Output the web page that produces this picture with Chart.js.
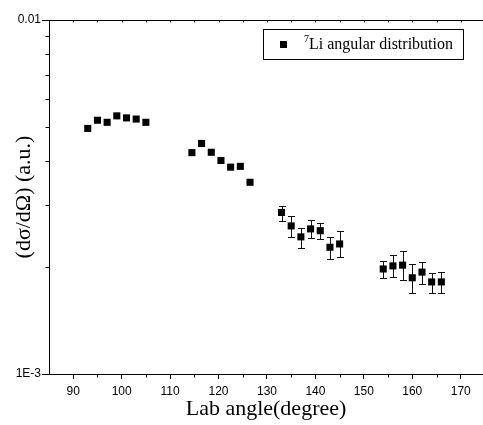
<!DOCTYPE html>
<html>
<head>
<meta charset="utf-8">
<title>7Li angular distribution</title>
<script src="https://cdn.jsdelivr.net/npm/chart.js@4.4.1/dist/chart.umd.min.js"></script>
<style>
  html, body { margin: 0; padding: 0; background: #fff; overflow: hidden; }
  canvas { display: block; }
</style>
</head>
<body>
<canvas id="chart" width="483" height="425"></canvas>
<script>
// Lab angle (degree)
const angles = [93, 95, 97, 99, 101, 103, 105,
  114.5, 116.5, 118.5, 120.5, 122.5, 124.5, 126.5,
  133, 135, 137, 139, 141, 143, 145,
  154, 156, 158, 160, 162, 164, 166];
// dsigma/dOmega (a.u.)
const crossSection = [0.00494, 0.00521, 0.00514, 0.00536, 0.00529, 0.00525, 0.00514,
  0.00422, 0.00448, 0.00423, 0.00401, 0.00384, 0.00386, 0.00348,
  0.00286, 0.00262, 0.00244, 0.00257, 0.00254, 0.00228, 0.00233,
  0.00198, 0.00202, 0.00203, 0.00187, 0.00194, 0.00182, 0.00182];
// error bar bounds (null = no visible bar)
const errLow = [null, null, null, null, null, null, null,
  null, null, null, null, null, null, null,
  0.00270, 0.00243, 0.00227, 0.00242, 0.00240, 0.00211, 0.00214,
  0.00187, 0.00188, 0.00184, 0.00169, 0.00180, 0.00169, 0.00169];
const errHigh = [null, null, null, null, null, null, null,
  null, null, null, null, null, null, null,
  0.00299, 0.00280, 0.00259, 0.00273, 0.00267, 0.00244, 0.00253,
  0.00208, 0.00217, 0.00222, 0.00205, 0.00207, 0.00193, 0.00194];

const xMajorTicks = [90, 100, 110, 120, 130, 140, 150, 160, 170];
const xMinorTicks = [85, 95, 105, 115, 125, 135, 145, 155, 165];
const yMajorTicks = [0.001, 0.01];
const yMinorTicks = [0.002, 0.003, 0.004, 0.005, 0.006, 0.007, 0.008, 0.009];
const yTickLabels = { 0.001: "1E-3", 0.01: "0.01" };
const legendLabel = "Li angular distribution";
const legendSup = "7";

const points = angles.map((a, i) => ({ x: a, y: crossSection[i] }));

// error bars drawn under the markers
const errorBars = {
  id: "errorBars",
  beforeDatasetsDraw(chart) {
    const { ctx, scales: { x, y } } = chart;
    ctx.save();
    ctx.strokeStyle = "#111";
    ctx.lineWidth = 1;
    angles.forEach((a, i) => {
      if (errLow[i] == null) return;
      const px = Math.round(x.getPixelForValue(a)) + 0.5;
      const yl = Math.round(y.getPixelForValue(errLow[i])) + 0.5;
      const yh = Math.round(y.getPixelForValue(errHigh[i])) + 0.5;
      ctx.beginPath();
      ctx.moveTo(px, yl); ctx.lineTo(px, yh);
      ctx.moveTo(px - 3.5, yl); ctx.lineTo(px + 3.5, yl);
      ctx.moveTo(px - 3.5, yh); ctx.lineTo(px + 3.5, yh);
      ctx.stroke();
    });
    ctx.restore();
  }
};

// frame top line, minor ticks and the boxed legend
const frame = {
  id: "frame",
  afterDraw(chart) {
    const { ctx, chartArea: area, scales: { x, y } } = chart;
    ctx.save();
    ctx.strokeStyle = "#000";
    ctx.lineWidth = 1;
    ctx.beginPath();
    const top = Math.round(area.top) + 0.5;
    ctx.moveTo(area.left, top); ctx.lineTo(area.right, top);
    // tiny ticks along the top
    xMajorTicks.concat(xMinorTicks).forEach(v => {
      const px = Math.round(x.getPixelForValue(v)) + 0.5;
      ctx.moveTo(px, top); ctx.lineTo(px, top + 2);
    });
    // minor ticks on the bottom axis
    const bot = Math.round(area.bottom) + 0.5;
    xMinorTicks.forEach(v => {
      if (v <= x.min) return;
      const px = Math.round(x.getPixelForValue(v)) + 0.5;
      ctx.moveTo(px, bot); ctx.lineTo(px, bot + 3);
    });
    // minor ticks on the left axis
    const left = Math.round(area.left) + 0.5;
    yMinorTicks.forEach(v => {
      const py = Math.round(y.getPixelForValue(v)) + 0.5;
      ctx.moveTo(left, py); ctx.lineTo(left - 4, py);
    });
    ctx.stroke();

    // legend box
    const bx = area.right - 220, by = area.top + 9, bw = 200, bh = 30;
    ctx.strokeRect(Math.round(bx) + 0.5, Math.round(by) + 0.5, bw, bh);
    ctx.fillStyle = "#000";
    ctx.fillRect(bx + 17, by + 12, 7, 7);
    ctx.textBaseline = "alphabetic";
    ctx.font = "10px 'Liberation Serif'";
    ctx.fillText(legendSup, bx + 41, by + 13);
    ctx.font = "16px 'Liberation Serif'";
    ctx.fillText(legendLabel, bx + 46, by + 20);
    ctx.restore();
  }
};

const ctx = document.getElementById("chart").getContext("2d");
new Chart(ctx, {
  type: "scatter",
  data: {
    datasets: [{
      label: "7Li angular distribution",
      data: points,
      showLine: false,
      pointStyle: "rect",
      pointRadius: 5,
      pointHoverRadius: 5,
      backgroundColor: "#000",
      borderColor: "#000",
      borderWidth: 0
    }]
  },
  options: {
    responsive: false,
    animation: false,
    layout: { autoPadding: false, padding: { top: 20, right: 0, left: 0, bottom: 0 } },
    plugins: {
      legend: { display: false },
      tooltip: { enabled: false }
    },
    scales: {
      x: {
        type: "linear",
        min: 85,
        max: 174.6,
        afterBuildTicks: (s) => { s.ticks = xMajorTicks.map(v => ({ value: v })); },
        afterFit: (s) => { s.height = 51; },
        grid: { drawOnChartArea: false, tickLength: 5, color: "#000" },
        border: { color: "#000", width: 1 },
        ticks: {
          color: "#000",
          padding: 5,
          maxRotation: 0,
          font: { family: "'Liberation Sans', Arial", size: 12 }
        },
        title: {
          display: true,
          text: "Lab angle(degree)",
          color: "#000",
          padding: { top: 0, bottom: 3 },
          font: { family: "'Liberation Serif', 'Times New Roman'", size: 22 }
        }
      },
      y: {
        type: "logarithmic",
        min: 0.001,
        max: 0.01,
        afterBuildTicks: (s) => { s.ticks = yMajorTicks.map(v => ({ value: v })); },
        afterFit: (s) => { s.width = 49; },
        grid: { drawOnChartArea: false, tickLength: 7, color: "#000" },
        border: { color: "#000", width: 1 },
        ticks: {
          color: "#000",
          padding: 1,
          font: { family: "'Liberation Sans', Arial", size: 12 },
          callback: (v) => yTickLabels[v] || ""
        },
        title: {
          display: true,
          text: "(dσ/dΩ) (a.u.)",
          color: "#000",
          padding: { top: 11, bottom: 0 },
          font: { family: "'Liberation Serif', 'Times New Roman'", size: 22 }
        }
      }
    }
  },
  plugins: [errorBars, frame]
});
</script>
</body>
</html>
